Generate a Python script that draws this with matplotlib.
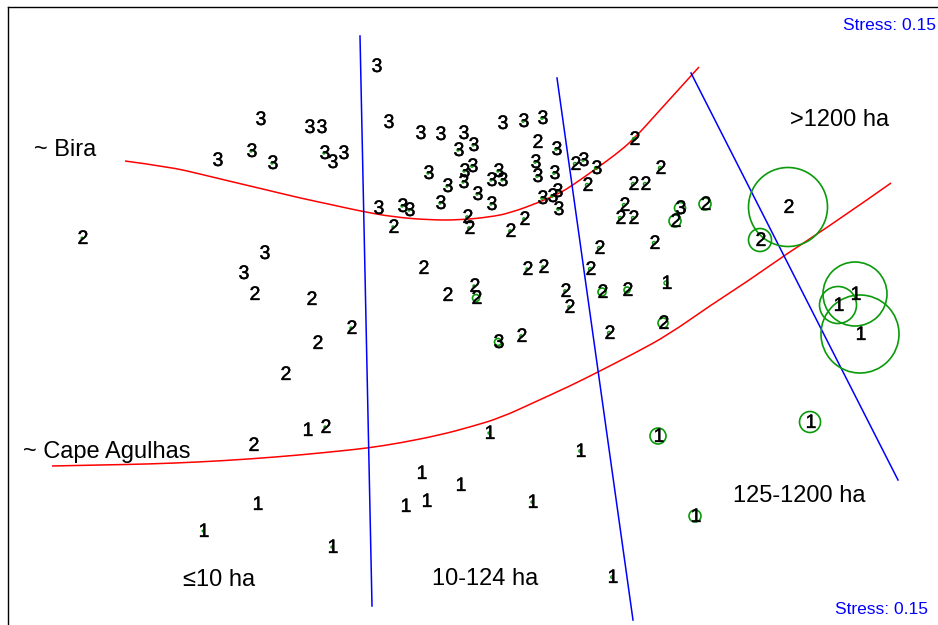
import numpy as np
import matplotlib
matplotlib.use('Agg')
import matplotlib.pyplot as plt
import matplotlib.patheffects as pe
from matplotlib.patches import Circle, PathPatch
from matplotlib.path import Path
from matplotlib.transforms import offset_copy

plt.rcParams['font.family'] = ['Liberation Sans', 'DejaVu Sans']

# site scores (plot coordinates, y grows downwards) and labels
site_x = [377, 261, 310, 322, 218, 252, 273, 325, 333, 344, 265, 244,
          389, 421, 441, 464, 459, 474, 503, 524, 543, 538, 557, 429,
          465, 473, 448, 464, 478, 492, 499, 503, 441, 492, 536, 538,
          555, 543, 553, 558, 559, 379, 403, 410, 394, 468, 470, 511,
          525,
          635, 576, 584, 597, 588, 661, 634, 646, 625, 621, 634, 681,
          676, 706, 655, 600, 591, 667, 603, 628, 664, 610,
          789, 761, 856, 839, 861, 811, 659, 696, 613, 581, 533, 490,
          424, 528, 544, 448, 475, 477, 566, 570, 499, 522,
          83, 255, 312, 352, 318, 286, 308, 326, 254, 258, 204, 333,
          422, 461, 406, 427]
site_y = [65, 118, 126, 126, 159, 150, 162, 152, 161, 152, 252, 272,
          121, 132, 133, 132, 149, 144, 122, 120, 117, 141, 148, 172,
          170, 165, 185, 181, 193, 179, 170, 179, 202, 203, 161, 175,
          172, 197, 195, 190, 208, 207, 205, 209, 226, 216, 227, 230,
          218,
          138, 163, 159, 167, 184, 167, 183, 183, 204, 217, 217, 207,
          220, 203, 242, 247, 268, 282, 291, 289, 322, 332,
          206, 239, 293, 304, 333, 421, 435, 515, 576, 450, 501, 432,
          267, 268, 266, 294, 285, 297, 290, 306, 341, 335,
          237, 293, 298, 327, 342, 373, 429, 426, 444, 503, 530, 546,
          472, 484, 505, 500]
site_lab = ['3', '3', '3', '3', '3', '3', '3', '3', '3', '3', '3', '3',
            '3', '3', '3', '3', '3', '3', '3', '3', '3', '2', '3', '3',
            '3', '3', '3', '3', '3', '3', '3', '3', '3', '3', '3', '3',
            '3', '3', '3', '3', '3', '3', '3', '3', '2', '2', '2', '2',
            '2',
            '2', '2', '3', '3', '2', '2', '2', '2', '2', '2', '2', '3',
            '2', '2', '2', '2', '2', '1', '2', '2', '2', '2',
            '2', '2', '1', '1', '1', '1', '1', '1', '1', '1', '1', '1',
            '2', '2', '2', '2', '2', '2', '2', '2', '3', '2',
            '2', '2', '2', '2', '2', '2', '1', '2', '2', '1', '1', '1',
            '1', '1', '1', '1']
# bubble radius (plot units) for each site, 0 = no symbol
site_r = [0, 0, 0, 0, 0, 1, 1, 1, 0, 0, 0, 0,
          0, 0, 0, 0, 1, 1, 0, 1.2, 1.2, 0, 1.2, 1,
          1, 1.2, 1, 1, 1, 1, 1, 1, 1, 1, 1.2, 1.2,
          1.2, 1.2, 1.2, 1.2, 1.2, 0, 1, 1, 1, 1.2, 1.2, 1.2,
          1.2,
          1.5, 1.5, 1.2, 1.5, 1.5, 1.5, 1.5, 1.5, 1.5, 1.5, 1.5, 5.5,
          6, 6, 1.5, 1.5, 1.5, 2, 4, 3, 5, 1.5,
          39.5, 11.5, 32, 18.5, 39, 10.5, 8, 6, 1.2, 1.2, 1, 1,
          0, 1, 1.2, 0, 1, 3.5, 1.2, 1.2, 3.5, 1.2,
          0.8, 0, 0, 1, 0, 0, 0, 1, 0, 0, 0.8, 1,
          0, 0, 0, 0]

# fitted contours of the surface (red) and class boundaries (blue)
bira_x = [125, 170, 200, 233, 267, 300, 333, 360, 393, 430, 460, 490,
          510, 540, 560, 573, 597, 615, 633, 660, 680, 699]
bira_y = [161, 167, 174, 182, 190, 198, 205, 211, 217, 220, 220, 217,
          213, 202, 193, 185, 168, 155, 140, 110, 88, 67]
agul_x = [52, 100, 150, 200, 250, 300, 340, 368, 400, 440, 470, 500,
          535, 570, 598, 635, 668, 711, 748, 785, 840, 891]
agul_y = [466, 465, 464, 462, 459, 455, 451, 448, 443, 435, 427, 418,
          402, 386, 372, 353, 335, 305, 281, 255, 219, 183]
bound_x = [[360, 372], [557, 633], [691, 898]]
bound_y = [[36, 606], [78, 620], [73, 480]]

class_txt = ['≤10 ha', '10-124 ha', '125-1200 ha', '>1200 ha']
class_x = [183, 432, 733, 790]
class_y = [578, 577, 494, 118]
region_txt = ['~ Bira', '~ Cape Agulhas']
region_x = [34, 23]
region_y = [148, 450]
stress = 0.15


def smooth_path(xs, ys):
    # quadratic bezier through the midpoints, read points as control points
    pts = np.column_stack([xs, ys]).astype(float)
    verts = [pts[0]]
    codes = [Path.MOVETO]
    for i in range(1, len(pts) - 1):
        mid = (pts[i] + pts[i + 1]) / 2 if i < len(pts) - 2 else pts[i + 1]
        verts += [pts[i], mid]
        codes += [Path.CURVE3, Path.CURVE3]
    return Path(verts, codes)


W, H = 938, 625
fig = plt.figure(figsize=(W / 100, H / 100), dpi=100)
ax = fig.add_axes([8 / W, 0, (W - 8) / W, (H - 7) / H])
ax.set_xlim(8, W)
ax.set_ylim(H, 7)
ax.set_xticks([]); ax.set_yticks([])
for s in ['right', 'bottom']:
    ax.spines[s].set_visible(False)
for s in ['left', 'top']:
    ax.spines[s].set_linewidth(1.0)

for x, y, r in zip(site_x, site_y, site_r):
    if r > 0:
        ax.add_patch(Circle((x - 1, y + 1), r, fill=False, edgecolor='#0a9a0a',
                            linewidth=1.2 if r > 2 else 1.0, zorder=2))

fs = 14
tr = offset_copy(ax.transData, fig=fig, y=-0.358 * fs, units='points')
heavy = [pe.withStroke(linewidth=0.3, foreground='black')]
for x, y, t in zip(site_x, site_y, site_lab):
    ax.text(x, y, t, fontsize=fs, ha='center', va='baseline',
            transform=tr, zorder=3, path_effects=heavy)

for cx, cy in [(bira_x, bira_y), (agul_x, agul_y)]:
    ax.add_patch(PathPatch(smooth_path(cx, cy), fill=False, edgecolor='red',
                           lw=1.1, zorder=1))
for bx, by in zip(bound_x, bound_y):
    ax.plot(bx, by, color='blue', lw=1.1, zorder=1)

fs2 = 17
tr2 = offset_copy(ax.transData, fig=fig, y=-0.358 * fs2, units='points')
for t, x, y in zip(class_txt + region_txt, class_x + region_x, class_y + region_y):
    ax.text(x, y, t, fontsize=fs2, ha='left', va='baseline', transform=tr2)

fs3 = 12.5
tr3 = offset_copy(ax.transData, fig=fig, y=-0.358 * fs3, units='points')
ax.text(936, 24, f'Stress: {stress}', fontsize=fs3, color='blue',
        ha='right', va='baseline', transform=tr3)
ax.text(928, 608, f'Stress: {stress}', fontsize=fs3, color='blue',
        ha='right', va='baseline', transform=tr3)

fig.savefig('out.png', dpi=100)
